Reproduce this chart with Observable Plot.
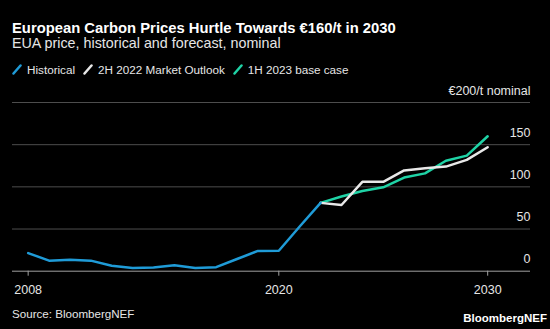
<!DOCTYPE html>
<html><head><meta charset="utf-8">
<script src="https://cdn.jsdelivr.net/npm/d3@7"></script>
<script src="https://cdn.jsdelivr.net/npm/@observablehq/plot@0.6"></script>
<style>
html,body{margin:0;padding:0;background:#000;}
body{width:550px;height:329px;overflow:hidden;position:relative;font-family:"Liberation Sans",Arial,Helvetica,sans-serif;color:#fff;}
.abs{position:absolute;white-space:nowrap;line-height:1;}
#title{left:12px;top:21px;font-size:14.8px;font-weight:bold;}
#subtitle{left:12px;top:36px;font-size:14.3px;color:#e6e6e6;}
#legend{left:12px;top:64px;font-size:11.7px;color:#e6e6e6;display:flex;align-items:center;}
#legend .item{display:flex;align-items:center;margin-right:8px;}
#legend svg{margin-right:5px;}
#chart{position:absolute;left:0;top:80px;}
#source{left:12px;top:308px;font-size:11.6px;color:#e6e6e6;}
#logo{right:3px;top:313px;font-size:11.5px;font-weight:bold;color:#fff;}
</style>
</head><body>
<div id="title" class="abs">European Carbon Prices Hurtle Towards €160/t in 2030</div>
<div id="subtitle" class="abs">EUA price, historical and forecast, nominal</div>
<div id="legend" class="abs"></div>
<div id="chart"></div>
<div id="source" class="abs">Source: BloombergNEF</div>
<div id="logo" class="abs">BloombergNEF</div>
<script>
const seriesNames = ["Historical", "2H 2022 Market Outlook", "1H 2023 base case"];
const seriesColors = ["#1f9bd7", "#e8e8e8", "#1fd3a6"];

const histYears = [2008,2009,2010,2011,2012,2013,2014,2015,2016,2017,2018,2019,2020,2021,2022];
const histValues = [21.5,12.5,13.5,12.5,6.5,3.8,4.5,7,3.8,4.8,14.5,24,24.3,53,81];

const fcYears = [2022,2023,2024,2025,2026,2027,2028,2029,2030];
const outlook2H22 = [81,78.5,106,106,119.5,122,124,132,147];
const base1H23 = [81,88.5,95,99.5,111,116,131,137,160];

const xTicks = [2008, 2020, 2030];
const yTicks = [0, 50, 100, 150, 200];
const yTickLabels = ["0", "50", "100", "150", "€200/t nominal"];

// legend
const legend = document.getElementById("legend");
seriesNames.forEach((n, i) => {
  const it = document.createElement("div");
  it.className = "item";
  it.innerHTML = `<svg width="10" height="11"><line x1="1.5" y1="9.5" x2="8.5" y2="1.5" stroke="${seriesColors[i]}" stroke-width="2.5" stroke-linecap="round"/></svg><span>${n}</span>`;
  legend.appendChild(it);
});

const hist = histYears.map((y, i) => ({year: y, value: histValues[i]}));
const o22 = fcYears.map((y, i) => ({year: y, value: outlook2H22[i]}));
const b23 = fcYears.map((y, i) => ({year: y, value: base1H23[i]}));
const yLab = yTicks.map((v, i) => ({v, label: yTickLabels[i]}));

const plot = Plot.plot({
  width: 550,
  height: 220,
  marginTop: 22,
  marginBottom: 29.3,
  marginLeft: 12,
  marginRight: 20,
  style: {background: "transparent", color: "#e6e6e6", fontFamily: "'Liberation Sans', Arial, sans-serif", fontSize: "12.5px"},
  x: {domain: [2007.25, 2032.05]},
  y: {domain: [0, 200], axis: null},
  marks: [
    Plot.ruleY(yTicks.filter(d => d > 0), {stroke: "#4d4d4d", strokeWidth: 1}),
    Plot.ruleY([0], {stroke: "#a0a0a0", strokeWidth: 1}),
    Plot.axisX({ticks: xTicks, tickFormat: d => String(d), tickSize: 5, tickPadding: 9, stroke: "#a0a0a0", label: null, fontSize: 12.5}),
    Plot.text(yLab, {x: () => 2032.05, y: "v", text: "label", textAnchor: "end", lineAnchor: "middle", dy: -12, fill: "#e6e6e6", fontSize: 12.5}),
    Plot.line(b23, {x: "year", y: "value", stroke: seriesColors[2], strokeWidth: 2.5}),
    Plot.line(o22, {x: "year", y: "value", stroke: seriesColors[1], strokeWidth: 2.5}),
    Plot.line(hist, {x: "year", y: "value", stroke: seriesColors[0], strokeWidth: 2.5})
  ]
});
document.getElementById("chart").appendChild(plot);
</script>
</body></html>
